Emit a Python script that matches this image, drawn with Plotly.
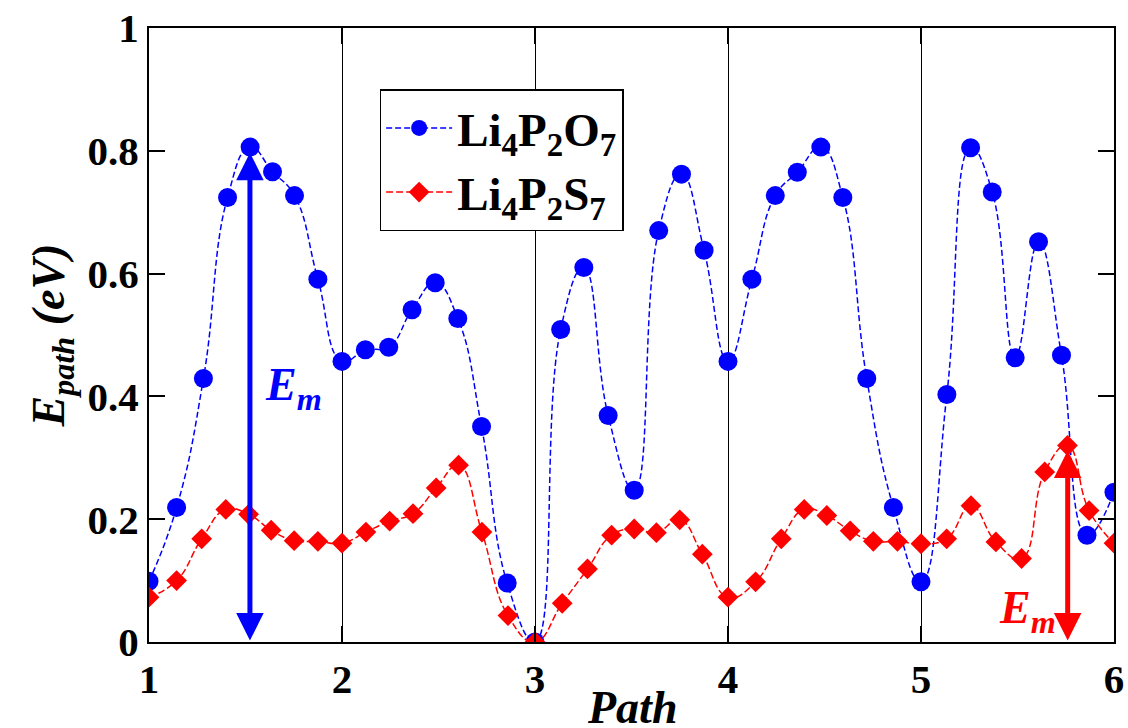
import plotly.graph_objects as go

# ---- data ----
x_o = [1.0, 1.143, 1.282, 1.407, 1.524, 1.64, 1.754, 1.875, 2.0, 2.121, 2.242, 2.363, 2.483, 2.6,
       2.723, 2.856, 3.0, 3.133, 3.253, 3.379, 3.514, 3.641, 3.759, 3.876, 4.0, 4.124, 4.245,
       4.359, 4.481, 4.595, 4.719, 4.857, 5.0, 5.134, 5.257, 5.369, 5.488, 5.609, 5.728, 5.86, 6.0]
y_o = [0.099, 0.219, 0.429, 0.724, 0.806, 0.766, 0.727, 0.591, 0.457, 0.476, 0.480, 0.541, 0.585,
       0.527, 0.351, 0.096, 0.0, 0.509, 0.610, 0.369, 0.247, 0.670, 0.762, 0.638, 0.457, 0.591,
       0.727, 0.765, 0.806, 0.724, 0.429, 0.219, 0.098, 0.403, 0.805, 0.733, 0.463, 0.652, 0.467,
       0.174, 0.244]

x_s = [1.0, 1.143, 1.273, 1.398, 1.516, 1.633, 1.752, 1.875, 2.0, 2.124, 2.247, 2.368, 2.488, 2.604,
       2.725, 2.86, 3.0, 3.141, 3.272, 3.397, 3.514, 3.629, 3.75, 3.867, 4.0, 4.143, 4.276, 4.395,
       4.512, 4.633, 4.753, 4.878, 5.0, 5.133, 5.259, 5.388, 5.521, 5.641, 5.759, 5.871, 6.0]
y_s = [0.073, 0.100, 0.168, 0.216, 0.208, 0.182, 0.165, 0.164, 0.161, 0.179, 0.197, 0.209, 0.251,
       0.288, 0.179, 0.043, 0.0, 0.063, 0.119, 0.174, 0.184, 0.178, 0.199, 0.143, 0.073, 0.098,
       0.168, 0.216, 0.206, 0.181, 0.164, 0.164, 0.160, 0.168, 0.222, 0.163, 0.136, 0.277, 0.320,
       0.214, 0.161]

x_ticks = [1, 2, 3, 4, 5, 6]
y_ticks = [0, 0.2, 0.4, 0.6, 0.8, 1]
y_ticktext = ["0", "0.2", "0.4", "0.6", "0.8", "1"]

name_o = "Li<sub>4</sub>P<sub>2</sub>O<sub>7</sub>"
name_s = "Li<sub>4</sub>P<sub>2</sub>S<sub>7</sub>"

# arrows: (x, y_top, y_bottom)
arrow_o = (1.523, 0.797, 0.0)
arrow_s = (5.76, 0.312, 0.0)

SERIF = "Liberation Serif, Times New Roman, Times, serif"
BLUE = "#0000FF"
RED = "#FF0000"

fig = go.Figure()
fig.add_trace(go.Scatter(
    x=x_o, y=y_o, name=name_o, mode="lines+markers",
    line=dict(color=BLUE, width=1.5, dash="6px,3px", shape="spline", smoothing=1.3),
    marker=dict(symbol="circle", size=19, color=BLUE),
))
fig.add_trace(go.Scatter(
    x=x_s, y=y_s, name=name_s, mode="lines+markers",
    line=dict(color=RED, width=1.5, dash="7px,3px", shape="spline", smoothing=1.3),
    marker=dict(symbol="diamond", size=16, color=RED),
))

for (ax_x, ytop, ybot), col in [(arrow_o, BLUE), (arrow_s, RED)]:
    fig.add_annotation(
        x=ax_x, y=ytop, ax=ax_x, ay=ybot, xref="x", yref="y", axref="x", ayref="y",
        text="", showarrow=True, arrowside="end+start",
        arrowhead=2, startarrowhead=2, arrowsize=1.1, startarrowsize=1.1,
        arrowwidth=5, arrowcolor=col,
    )

fig.add_annotation(x=1.75, y=0.413, xref="x", yref="y", text="E<sub>m</sub>",
                   showarrow=False, font=dict(family=SERIF, size=46, color=BLUE,
                                              weight="bold", style="italic"))
fig.add_annotation(x=5.55, y=0.05, xref="x", yref="y", text="E<sub>m</sub>",
                   showarrow=False, font=dict(family=SERIF, size=46, color=RED,
                                              weight="bold", style="italic"))

# x-axis title as a paper-anchored annotation (so it can sit lower, like the reference)
fig.add_annotation(x=0.5, y=0, xref="paper", yref="paper", xanchor="center", yanchor="top",
                   yshift=-38, text="Path", showarrow=False,
                   font=dict(family=SERIF, size=46, color="black", weight="bold", style="italic"))

axis_common = dict(
    showline=True, linecolor="black", linewidth=2, mirror="ticks",
    ticks="inside", ticklen=16, tickwidth=2, tickcolor="black",
    zeroline=False,
    tickfont=dict(family=SERIF, size=41, color="black", weight="bold"),
)

fig.update_xaxes(
    range=[1, 6], tickvals=x_ticks, ticktext=[str(v) for v in x_ticks],
    showgrid=True, gridcolor="black", gridwidth=1,
    **axis_common,
)
fig.update_yaxes(
    range=[0, 1], tickvals=y_ticks, ticktext=y_ticktext, showgrid=False,
    title=dict(text="E<sub>path</sub> (eV)", font=dict(family=SERIF, size=46, color="black",
                                                        weight="bold", style="italic"), standoff=8),
    **axis_common,
)

fig.update_layout(
    width=1128, height=728,
    margin=dict(l=149, r=14, t=28, b=86, autoexpand=False),
    paper_bgcolor="white", plot_bgcolor="white",
    showlegend=True,
    legend=dict(x=0.239, y=0.90, xanchor="left", yanchor="top",
                bgcolor="white", bordercolor="black", borderwidth=1.5,
                font=dict(family=SERIF, size=47, color="black", weight="bold"),
                itemwidth=66, tracegroupgap=0),
)

fig.write_html("out.html", config={"displayModeBar": False},
               post_script="document.body.style.margin='0';document.body.style.overflow='hidden';")
